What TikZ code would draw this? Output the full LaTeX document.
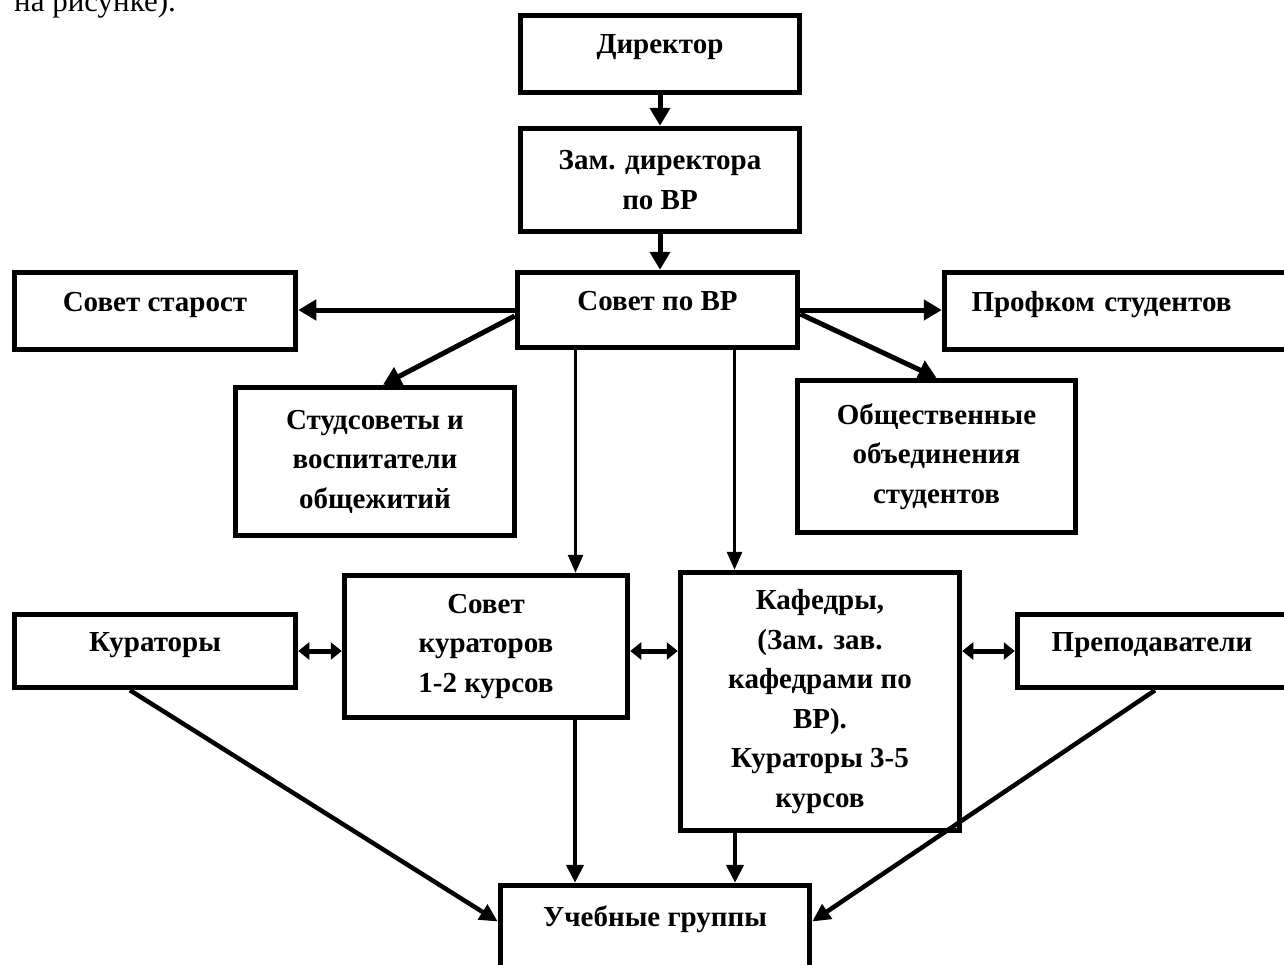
\documentclass[tikz,border=0pt]{standalone}
\usepackage{fontspec}
\setmainfont{Liberation Serif}
\usetikzlibrary{arrows.meta,calc}
\begin{document}
\begin{tikzpicture}[x=1pt,y=-1pt,
 box/.style={draw, line width=5.5pt, rectangle, inner sep=0pt, align=center, font=\fontsize{29}{39.5}\selectfont\bfseries},
 one/.style={text depth=19pt},
 arr/.style={line width=5pt, -{Triangle[length=18pt,width=20pt]}},
 thinarr/.style={line width=2.8pt, -{Triangle[length=18pt,width=15pt]}},
 midarr/.style={line width=4.5pt, -{Triangle[length=18pt,width=17pt]}},
 dbl/.style={line width=5pt, {Triangle[length=11pt,width=17pt]}-{Triangle[length=11pt,width=17pt]}}]
\useasboundingbox (0,0) rectangle (1284,964);

\node[anchor=base west, inner sep=0pt, font=\fontsize{31}{36}\selectfont] (cap) at (14,11) {на рисунке).};

\node[box, one, minimum width=279pt, minimum height=77pt] (dir) at (660,54) {Директор};
\node[box, minimum width=279pt, minimum height=103pt] (zam) at (660,180) {Зам. директора\\по ВР};
\node[box, one, minimum width=280pt, minimum height=75pt] (svr) at (657.5,310) {Совет по ВР};
\node[box, one, minimum width=281pt, minimum height=77pt] (star) at (155,311) {Совет старост};
\node[box, one, minimum width=348pt, minimum height=77pt, text width=300pt] (prof) at (1118.5,311) {\hspace*{-34pt}Профком студентов};
\node[box, minimum width=279pt, minimum height=148pt] (stud) at (375,461.5) {Студсоветы и\\воспитатели\\общежитий};
\node[box, minimum width=278pt, minimum height=152pt] (obsh) at (936.5,456.5) {Общественные\\объединения\\студентов};
\node[box, one, minimum width=281pt, minimum height=73pt] (kur) at (155,651) {Кураторы};
\node[box, minimum width=283pt, minimum height=142pt] (skur) at (486,646.5) {Совет\\кураторов\\1-2 курсов};
\node[box, minimum width=279pt, minimum height=258pt] (kaf) at (820,701.5) {Кафедры,\\(Зам. зав.\\кафедрами по\\ВР).\\Кураторы 3-5\\курсов};
\node[box, one, minimum width=275pt, minimum height=73pt, text width=260pt] (prep) at (1155,651) {\hspace*{-6pt}Преподаватели};
\node[box, text depth=30pt, minimum width=309pt, minimum height=92pt] (ucheb) at (655,931.5) {Учебные группы};

\draw[arr] (dir) -- (zam);
\draw[arr] (zam.south) -- (zam.south |- svr.north);
\draw[arr] (svr.west) -- (svr.west -| star.east);
\draw[arr] ([yshift=-6pt]svr.west) -- ([xshift=8pt]stud.north);
\draw[arr] (svr.east) -- (svr.east -| prof.west);
\draw[arr] ([yshift=-4pt]svr.east) -- (obsh.north);
\draw[thinarr] ([xshift=-82pt]svr.south) -- ([xshift=-82pt]svr.south |- skur.north);
\draw[thinarr] ([xshift=77pt]svr.south) -- ([xshift=77pt]svr.south |- kaf.north);
\draw[dbl] (kur.east) -- (kur.east -| skur.west);
\draw[dbl] (kur.east -| skur.east) -- (kur.east -| kaf.west);
\draw[dbl] (prep.west -| kaf.east) -- (prep.west);
\draw[midarr] ([xshift=-25pt]kur.south) -- ([yshift=10pt]ucheb.west);
\draw[midarr] ([xshift=89pt]skur.south) -- ([xshift=89pt]skur.south |- ucheb.north);
\draw[midarr] ([xshift=-85pt]kaf.south) -- ([xshift=-85pt]kaf.south |- ucheb.north);
\draw[midarr] (prep.south) -- ([yshift=10pt]ucheb.east);
\end{tikzpicture}
\end{document}
